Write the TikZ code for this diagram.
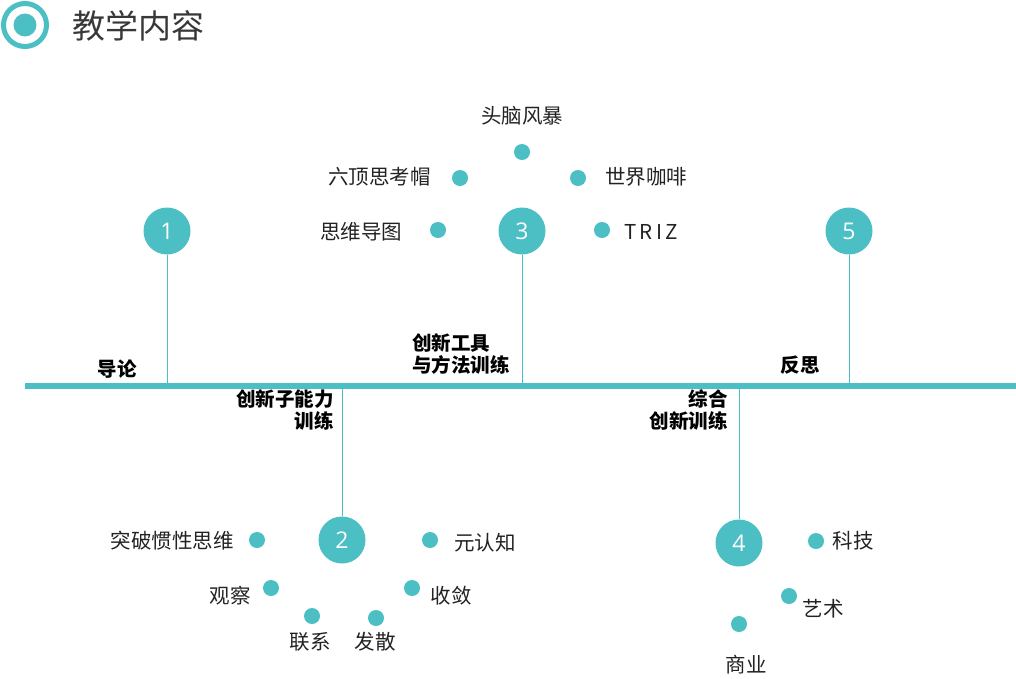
\documentclass[tikz,border=0pt]{standalone}
\usepackage{fontspec}
\setmainfont{Noto Sans CJK SC}
\newfontfamily\zahl{Open Sans}
\usepackage{xcolor}
\definecolor{tuerkis}{HTML}{4BBFC3}
\definecolor{schrift}{HTML}{222222}

\begin{document}
\begin{tikzpicture}[x=1pt,y=-1pt,
  punkt/.style={circle,fill=tuerkis,inner sep=0pt,minimum size=16pt},
  nummer/.style={circle,fill=tuerkis,inner sep=0pt,minimum size=47pt,text=white,font=\zahl\fontsize{23}{23}\selectfont},
  etikett/.style={text=schrift,inner sep=0pt,font=\fontsize{20.5}{20.5}\selectfont},
  stufe/.style={text=black,inner sep=0pt,font=\bfseries\fontsize{19.5}{22}\selectfont},
  linie/.style={draw=tuerkis,line width=0.8pt}]
\useasboundingbox (0,0) rectangle (1016,678);

%Titel
\node[circle,draw=tuerkis,line width=5pt,minimum size=43pt,inner sep=0pt] (ring) at (25,25) {};
\node[circle,fill=tuerkis,minimum size=23pt,inner sep=0pt] (kern) at (25,25) {};
\node[anchor=west,inner sep=0pt,text=schrift!90,font=\fontsize{33}{33}\selectfont] (titel) at (72,26) {教学内容};

%Zeitachse
\coordinate (achseA) at (25,386);
\coordinate (achseB) at (1016,386);
\draw[tuerkis,line width=6pt] (achseA) -- (achseB);

%Stationen
\node[nummer] (k1) at (167,231) {1};
\node[nummer] (k2) at (342,540) {2};
\node[nummer] (k3) at (522,231) {3};
\node[nummer] (k4) at (739,543) {4};
\node[nummer] (k5) at (849,231) {5};
\draw[linie] (k1.south) -- (k1.south |- achseA);
\draw[linie] (k3.south) -- (k3.south |- achseA);
\draw[linie] (k5.south) -- (k5.south |- achseA);
\draw[linie] (k2.north) -- (k2.north |- achseA);
\draw[linie] (k4.north) -- (k4.north |- achseA);

%Stufen
\node[stufe] (s1) at (117,369) {导论};
\node[stufe,anchor=west,align=left] (s3) at (412,354) {创新工具\\与方法训练};
\node[stufe,anchor=east,align=right] (s2) at (334,410) {创新子能力\\训练};
\node[stufe] (s5) at (800,365) {反思};
\node[stufe,anchor=east,align=right] (s4) at (728,410) {综合\\创新训练};

%Punkte 3
\node[punkt] (p31) at (522,152) {};
\node[punkt] (p32) at (460,178) {};
\node[punkt] (p33) at (578,178) {};
\node[punkt] (p34) at (438,230) {};
\node[punkt] (p35) at (602,230) {};
\node[etikett] at (522,116) {头脑风暴};
\node[etikett,anchor=east] at (431,177) {六顶思考帽};
\node[etikett,anchor=west] at (605,177) {世界咖啡};
\node[etikett] at (361,232) {思维导图};
\node[etikett] at (651,232) {T\,R\,I\,Z};

%Punkte 2
\node[punkt] (p21) at (257,540) {};
\node[punkt] (p22) at (430,540) {};
\node[punkt] (p23) at (271,588) {};
\node[punkt] (p24) at (412,588) {};
\node[punkt] (p25) at (312,616) {};
\node[punkt] (p26) at (376,618) {};
\node[etikett] at (172,541) {突破惯性思维};
\node[etikett] at (485,543) {元认知};
\node[etikett] at (230,596) {观察};
\node[etikett] at (451,596) {收敛};
\node[etikett] at (310,642) {联系};
\node[etikett] at (375,642) {发散};

%Punkte 4
\node[punkt] (p41) at (816,541) {};
\node[punkt] (p42) at (789,596) {};
\node[punkt] (p43) at (739,624) {};
\node[etikett] at (853,541) {科技};
\node[etikett] at (823,609) {艺术};
\node[etikett] at (746,665) {商业};

\end{tikzpicture}
\end{document}
